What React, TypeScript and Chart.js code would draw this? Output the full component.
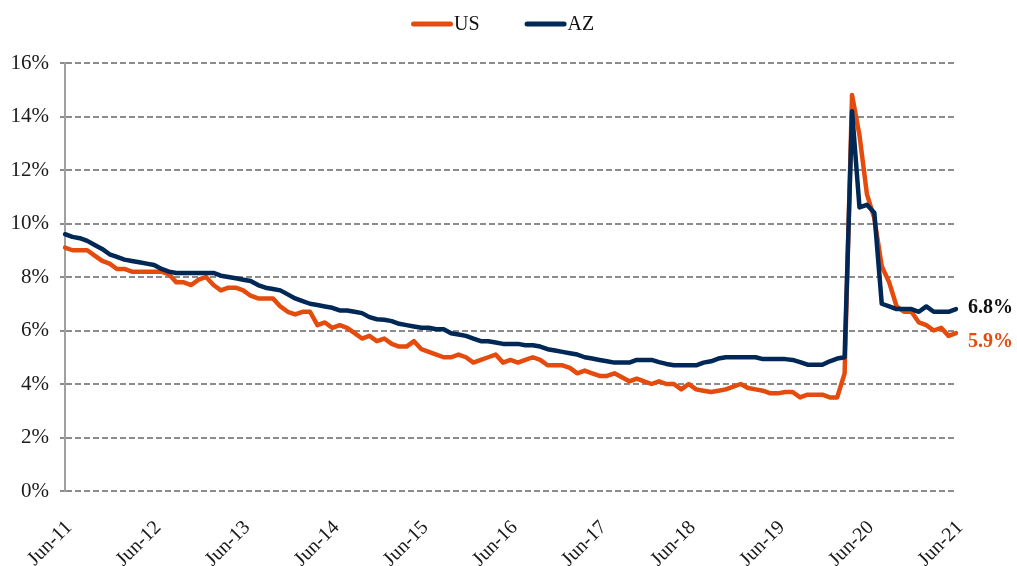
import React, { useEffect, useRef } from 'react';
import { Chart, registerables } from 'chart.js';

Chart.register(...registerables);

// ---- Data ----
const monthNames = ['Jan', 'Feb', 'Mar', 'Apr', 'May', 'Jun', 'Jul', 'Aug', 'Sep', 'Oct', 'Nov', 'Dec'];
// Monthly categories Jun-11 .. Jun-21
const categories: string[] = Array.from({ length: 121 }, (_, i) => {
  const m = (5 + i) % 12;
  const y = 11 + Math.floor((5 + i) / 12);
  return `${monthNames[m]}-${y}`;
});

const tickLabels = ['Jun-11', 'Jun-12', 'Jun-13', 'Jun-14', 'Jun-15', 'Jun-16', 'Jun-17', 'Jun-18', 'Jun-19', 'Jun-20', 'Jun-21'];

const usRate = [
  9.1, 9.0, 9.0, 9.0, 8.8, 8.6, 8.5, 8.3, 8.3, 8.2, 8.2, 8.2,
  8.2, 8.2, 8.1, 7.8, 7.8, 7.7, 7.9, 8.0, 7.7, 7.5, 7.6, 7.6,
  7.5, 7.3, 7.2, 7.2, 7.2, 6.9, 6.7, 6.6, 6.7, 6.7, 6.2, 6.3,
  6.1, 6.2, 6.1, 5.9, 5.7, 5.8, 5.6, 5.7, 5.5, 5.4, 5.4, 5.6,
  5.3, 5.2, 5.1, 5.0, 5.0, 5.1, 5.0, 4.8, 4.9, 5.0, 5.1, 4.8,
  4.9, 4.8, 4.9, 5.0, 4.9, 4.7, 4.7, 4.7, 4.6, 4.4, 4.5, 4.4,
  4.3, 4.3, 4.4, 4.25, 4.1, 4.2, 4.1, 4.0, 4.1, 4.0, 4.0, 3.8,
  4.0, 3.8, 3.75, 3.7, 3.75, 3.8, 3.9, 4.0, 3.85, 3.8, 3.75, 3.65,
  3.65, 3.7, 3.7, 3.5, 3.6, 3.6, 3.6, 3.5, 3.5, 4.4, 14.8, 13.3,
  11.1, 10.2, 8.4, 7.8, 6.9, 6.7, 6.7, 6.3, 6.2, 6.0, 6.1, 5.8,
  5.9,
];

const azRate = [
  9.6, 9.5, 9.45, 9.35, 9.2, 9.05, 8.85, 8.75, 8.65, 8.6, 8.55, 8.5,
  8.45, 8.3, 8.2, 8.15, 8.15, 8.15, 8.15, 8.15, 8.15, 8.05, 8.0, 7.95,
  7.9, 7.85, 7.7, 7.6, 7.55, 7.5, 7.35, 7.2, 7.1, 7.0, 6.95, 6.9,
  6.85, 6.75, 6.75, 6.7, 6.65, 6.5, 6.42, 6.4, 6.35, 6.25, 6.2, 6.15,
  6.1, 6.1, 6.05, 6.05, 5.9, 5.85, 5.8, 5.7, 5.6, 5.6, 5.55, 5.5,
  5.5, 5.5, 5.45, 5.45, 5.4, 5.3, 5.25, 5.2, 5.15, 5.1, 5.0, 4.95,
  4.9, 4.85, 4.8, 4.8, 4.8, 4.9, 4.9, 4.9, 4.82, 4.75, 4.7, 4.7,
  4.7, 4.7, 4.8, 4.85, 4.95, 5.0, 5.0, 5.0, 5.0, 5.0, 4.93, 4.93,
  4.93, 4.93, 4.9, 4.82, 4.72, 4.72, 4.72, 4.85, 4.95, 5.0, 14.2, 10.6,
  10.7, 10.4, 7.0, 6.9, 6.8, 6.8, 6.8, 6.7, 6.9, 6.7, 6.7, 6.7,
  6.8,
];

const endLabels = ['5.9%', '6.8%'];

// ---- Styles ----
const FONT = '"Liberation Serif", "Times New Roman", serif';
const US_COLOR = '#E54B0C';
const AZ_COLOR = '#002856';
const END_LABEL_COLORS = [US_COLOR, '#111111'];
const END_LABEL_DY = [9, -1];

const endLabelPlugin = {
  id: 'endLabels',
  afterDatasetsDraw(chart: any) {
    const ctx = chart.ctx;
    chart.data.datasets.forEach((ds: any, di: number) => {
      const meta = chart.getDatasetMeta(di);
      const pt = meta.data[meta.data.length - 1];
      if (!pt) return;
      ctx.save();
      ctx.font = `bold 20px ${FONT}`;
      ctx.fillStyle = END_LABEL_COLORS[di];
      ctx.textAlign = 'left';
      ctx.textBaseline = 'middle';
      ctx.fillText(endLabels[di], pt.x + 12, pt.y + END_LABEL_DY[di]);
      ctx.restore();
    });
  },
};

const LEGEND_X = 411;
const LEGEND_Y = 24;
const legendPlugin = {
  id: 'topLegend',
  afterDraw(chart: any) {
    const ctx = chart.ctx;
    ctx.save();
    ctx.font = `20px ${FONT}`;
    let x = LEGEND_X;
    chart.data.datasets.forEach((ds: any) => {
      ctx.strokeStyle = ds.borderColor;
      ctx.lineWidth = 5;
      ctx.lineCap = 'round';
      ctx.beginPath();
      ctx.moveTo(x + 2.5, LEGEND_Y);
      ctx.lineTo(x + 42 - 2.5, LEGEND_Y);
      ctx.stroke();
      x += 43;
      ctx.fillStyle = '#111111';
      ctx.textAlign = 'left';
      ctx.textBaseline = 'middle';
      ctx.fillText(ds.label, x, LEGEND_Y + 1);
      x += ctx.measureText(ds.label).width + 45;
    });
    ctx.restore();
  },
};

export default function App() {
  const ref = useRef<HTMLCanvasElement>(null);

  useEffect(() => {
    if (!ref.current) return;
    const chart = new Chart(ref.current, {
      type: 'line',
      data: {
        labels: categories,
        datasets: [
          {
            label: 'US',
            data: usRate,
            borderColor: US_COLOR,
            backgroundColor: US_COLOR,
            borderWidth: 4.5,
            borderJoinStyle: 'round',
            borderCapStyle: 'round',
            pointRadius: 0,
            tension: 0,
            order: 1,
          },
          {
            label: 'AZ',
            data: azRate,
            borderColor: AZ_COLOR,
            backgroundColor: AZ_COLOR,
            borderWidth: 4.5,
            borderJoinStyle: 'round',
            borderCapStyle: 'round',
            pointRadius: 0,
            tension: 0,
            order: 0,
          },
        ],
      },
      options: {
        responsive: false,
        animation: false,
        layout: { padding: { top: 63, right: 61, left: 0, bottom: 0 } },
        plugins: {
          legend: { display: false },
          tooltip: { enabled: false },
        },
        scales: {
          x: {
            type: 'category',
            offset: false,
            grid: { display: false, drawTicks: false },
            border: { display: false },
            ticks: {
              autoSkip: false,
              minRotation: 45,
              maxRotation: 45,
              padding: 25,
              labelOffset: 4,
              color: '#1a1a1a',
              font: { family: FONT, size: 20 },
              callback: (_v: any, i: number) => (tickLabels.includes(categories[i]) ? categories[i] : ''),
            },
            afterFit: (s: any) => {
              s.height = 75;
            },
          },
          y: {
            min: 0,
            max: 16,
            ticks: {
              stepSize: 2,
              padding: 11,
              color: '#1a1a1a',
              font: { family: FONT, size: 21 },
              callback: (v: any) => `${v}%`,
            },
            grid: { color: '#8c8c8c', lineWidth: 2, tickLength: 5, drawTicks: true },
            border: { display: true, color: '#a0a0a0', width: 2, dash: [6, 3] },
            afterFit: (s: any) => {
              s.width = 65;
            },
          },
        },
      },
      plugins: [endLabelPlugin, legendPlugin],
    });
    return () => chart.destroy();
  }, []);

  return (
    <div style={{ position: 'fixed', left: 0, top: 0, width: 1017, height: 566, background: '#ffffff' }}>
      <canvas ref={ref} width={1017} height={566} style={{ display: 'block', width: 1017, height: 566 }} />
    </div>
  );
}
